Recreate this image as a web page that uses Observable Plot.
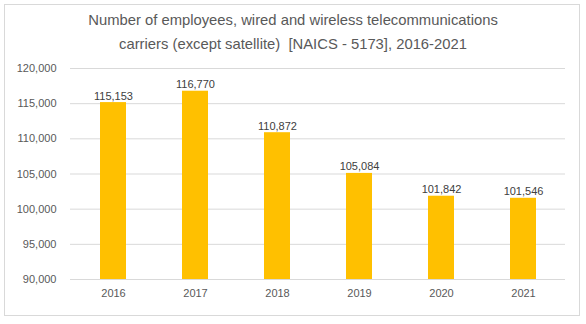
<!DOCTYPE html>
<html>
<head>
<meta charset="utf-8">
<script src="https://cdn.jsdelivr.net/npm/d3@7"></script>
<script src="https://cdn.jsdelivr.net/npm/@observablehq/plot@0.6"></script>
<style>
  html, body { margin: 0; padding: 0; background: #fff; }
  #wrap { position: relative; width: 586px; height: 324px; font-family: "Liberation Sans", Arial, sans-serif; }
  #frame { position: absolute; left: 4px; top: 4px; width: 574px; height: 310px; border: 1px solid #d9d9d9; pointer-events: none; }
  #title { height: 56px; box-sizing: border-box; padding-top: 8px; text-align: center; color: #595959; font-size: 14.8px; line-height: 24px; }
  #chart svg { display: block; }
</style>
</head>
<body>
<div id="wrap">
  <div id="frame"></div>
  <div id="title">Number of employees, wired and wireless telecommunications<br>carriers (except satellite)&nbsp; [NAICS - 5173], 2016-2021</div>
  <div id="chart"></div>
</div>
<script>
const years = ["2016", "2017", "2018", "2019", "2020", "2021"];
const employees = [115153, 116770, 110872, 105084, 101842, 101546];
const yTicks = [90000, 95000, 100000, 105000, 110000, 115000, 120000];

const data = years.map((y, i) => ({year: y, value: employees[i]}));
const fmt = d3.format(",");

const chart = Plot.plot({
  width: 586,
  height: 268,
  marginTop: 12,
  marginBottom: 45,
  marginLeft: 70,
  marginRight: 21,
  style: {fontFamily: "Liberation Sans, Arial, sans-serif", fontSize: "11px", color: "#595959", background: "transparent"},
  x: {domain: years, paddingInner: 0.685, paddingOuter: 0.3425, label: null},
  y: {domain: [90000, 120000], label: null},
  marks: [
    Plot.gridY(yTicks, {stroke: "#d9d9d9", strokeOpacity: 1}),
    Plot.barY(data, {x: "year", y1: 90000, y2: "value", fill: "#FFC000"}),
    Plot.ruleY([90000], {stroke: "#d9d9d9"}),
    Plot.text(data, {x: "year", y: "value", text: d => fmt(d.value), lineAnchor: "bottom", dy: -3, fill: "#404040", fontSize: 11}),
    Plot.axisY(yTicks, {tickFormat: fmt, tickSize: 0, tickPadding: 14, fill: "#595959"}),
    Plot.axisX({tickSize: 0, tickPadding: 10, fill: "#595959"})
  ]
});
document.getElementById("chart").appendChild(chart);
</script>
</body>
</html>
